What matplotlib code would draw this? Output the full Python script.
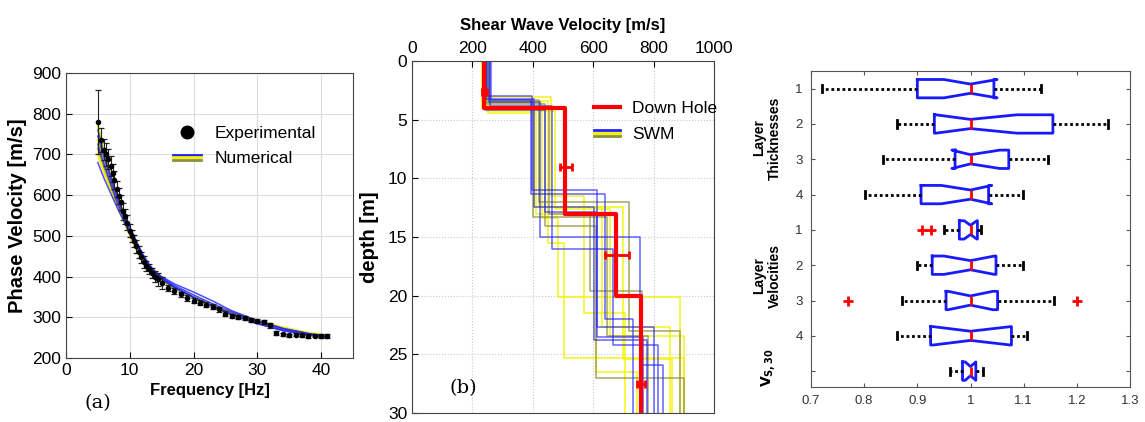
import matplotlib
matplotlib.use("Agg")
import matplotlib.pyplot as plt
from matplotlib.lines import Line2D
from matplotlib.legend_handler import HandlerBase

plt.rcParams['font.family'] = ['Liberation Sans', 'DejaVu Sans']

# ----------------------------
# (a) dispersion curve data
# ----------------------------

exp_freq = [5.0, 5.5, 6.0, 6.3, 6.6, 7.0, 7.3, 7.6, 8.0, 8.3, 8.6, 9.0, 9.3,
            9.6, 10.0, 10.3, 10.6, 11.0, 11.4, 11.8, 12.2, 12.6, 13.0, 13.5,
            14.0, 14.5, 15.0, 16.0, 17.0, 18.0, 19.0, 20.0, 21.0, 22.0, 23.0,
            24.0, 25.0, 26.0, 27.0, 28.0, 29.0, 30.0, 31.0, 32.0, 33.0, 34.0,
            35.0, 36.0, 37.0, 38.0, 39.0, 40.0, 41.0]
exp_vel = [780, 735, 712, 700, 688, 671, 655, 638, 615, 598, 582, 560, 548,
           532, 512, 500, 488, 474, 460, 447, 436, 426, 418, 408,
           400, 393, 385, 372, 364, 356, 348, 341, 336, 331, 326,
           320, 309, 304, 301, 298, 293, 290, 288, 280, 262, 258,
           256, 257, 256, 254, 255, 254, 254]
exp_err = [78, 30, 25, 28, 25, 25, 22, 22, 20, 20, 18, 20, 18,
           18, 16, 15, 15, 15, 14, 14, 14, 12, 12, 12,
           14, 15, 15, 8, 8, 7, 7, 6, 6, 6, 6,
           6, 6, 5, 5, 5, 5, 5, 5, 6, 5, 4,
           4, 4, 4, 4, 4, 4, 4]

num_freq = [5, 6, 7, 8, 9, 10, 11, 12, 13, 14, 15, 17, 20, 23, 26, 30, 34, 38, 41]
num_blue = [
    [745, 690, 640, 595, 555, 520, 485, 455, 430, 412, 398, 378, 355, 333, 313, 290, 272, 260, 253],
    [725, 675, 630, 585, 548, 512, 478, 450, 428, 410, 396, 375, 350, 328, 308, 285, 268, 257, 251],
    [680, 640, 605, 570, 538, 505, 476, 450, 428, 412, 400, 382, 362, 340, 316, 292, 273, 260, 252],
    [760, 700, 648, 600, 558, 522, 488, 456, 430, 410, 394, 372, 348, 326, 306, 284, 267, 256, 250],
]
num_yellow = [
    [770, 705, 650, 600, 555, 515, 478, 446, 420, 402, 390, 372, 350, 330, 312, 292, 275, 262, 255],
    [700, 655, 615, 575, 540, 502, 468, 440, 418, 402, 390, 370, 346, 325, 306, 286, 270, 259, 252],
    [735, 685, 635, 588, 548, 508, 472, 442, 420, 404, 392, 372, 348, 327, 308, 288, 272, 260, 253],
]
num_olive = [
    [715, 668, 625, 580, 544, 506, 470, 444, 422, 405, 393, 373, 349, 328, 309, 289, 271, 259, 252],
]

# ----------------------------
# (b) shear wave velocity profiles
# ----------------------------

dh_vs = [240, 507, 676, 757]
dh_z = [4.0, 13.0, 20.0]
dh_err_z = [2.6, 9.0, 16.5, 27.5]
dh_err_vs = [240, 510, 678, 758]
dh_err_dv = [7, 20, 39, 14]

swm_blue_vs = [
    [250, 397, 612, 800],
    [246, 405, 601, 777],
    [254, 424, 755, 832],
    [258, 463, 667, 816],
    [242, 441, 612, 766],
    [262, 395, 640, 733],
]
swm_blue_z = [
    [3.0, 11.0, 22.7],
    [3.2, 12.4, 23.8],
    [3.5, 15.0, 25.9],
    [3.8, 16.0, 24.2],
    [4.2, 12.9, 23.5],
    [3.3, 11.3, 22.0],
]
swm_yellow_vs = [
    [238, 430, 485, 888],
    [232, 405, 628, 854],
    [248, 475, 655, 899],
    [255, 450, 502, 899],
    [244, 420, 700, 860],
    [236, 460, 568, 706],
    [252, 412, 610, 744],
]
swm_yellow_z = [
    [3.6, 13.4, 20.1],
    [4.0, 12.4, 22.7],
    [4.3, 12.6, 23.4],
    [3.4, 15.5, 25.3],
    [3.9, 12.4, 25.4],
    [3.1, 11.5, 21.5],
    [4.4, 13.0, 26.5],
]
swm_olive_vs = [
    [245, 440, 610, 899],
    [250, 400, 645, 783],
    [240, 455, 590, 760],
    [256, 420, 720, 888],
]
swm_olive_z = [
    [3.7, 14.1, 27.0],
    [3.5, 13.3, 23.4],
    [4.1, 13.0, 19.6],
    [3.3, 12.0, 23.0],
]

# ----------------------------
# (c) boxplot statistics (normalised)
# ----------------------------

box_q1 = [0.900, 0.932, 0.971, 0.907, 0.979, 0.928, 0.954, 0.925, 0.985]
box_med = [1.0, 1.0, 1.0, 1.0, 1.0, 1.0, 1.0, 1.0, 1.0]
box_q3 = [1.044, 1.155, 1.072, 1.034, 1.013, 1.048, 1.051, 1.077, 1.010]
box_lo = [0.720, 0.861, 0.835, 0.802, 0.950, 0.900, 0.871, 0.861, 0.961]
box_hi = [1.133, 1.259, 1.146, 1.099, 1.019, 1.098, 1.157, 1.107, 1.024]
box_cilo = [0.950, 0.935, 0.965, 0.945, 0.988, 0.950, 0.958, 0.930, 0.990]
box_cihi = [1.050, 1.087, 1.055, 1.040, 1.012, 1.045, 1.042, 1.075, 1.010]
box_fliers = [[], [], [], [], [0.908, 0.926], [], [0.770, 1.201], [], []]
box_ticks = ['1', '2', '3', '4', '1', '2', '3', '4', '']

BLUE = '#2222ff'
YELLOW = '#f2f200'
OLIVE = '#8f8f3a'


class StackedLines(HandlerBase):
    def __init__(self, colors, lw=2.0):
        super().__init__()
        self.colors = colors
        self.lw = lw

    def create_artists(self, legend, orig_handle, xdescent, ydescent,
                       width, height, fontsize, trans):
        arts = []
        for i, c in enumerate(self.colors):
            y = height / 2 - ydescent + (1 - i) * height * 0.22
            ln = Line2D([-xdescent, -xdescent + width], [y, y],
                        color=c, lw=self.lw, transform=trans)
            arts.append(ln)
        return arts


fig = plt.figure(figsize=(11.45, 4.22), dpi=100)

# ----------------------------
# Panel (a)
# ----------------------------

ax1 = fig.add_axes([0.0576, 0.1517, 0.2507, 0.6754])

for v in num_yellow:
    ax1.plot(num_freq, v, color=YELLOW, lw=1.6)
for v in num_olive:
    ax1.plot(num_freq, v, color=OLIVE, lw=1.2)
for v in num_blue:
    ax1.plot(num_freq, v, color=BLUE, lw=1.1, alpha=0.8)

ax1.errorbar(exp_freq, exp_vel, yerr=exp_err, fmt='o', ms=3, color='k',
             ecolor='#222222', elinewidth=0.8, capsize=2.5, capthick=0.9)

ax1.set_xlim(0, 45)
ax1.set_ylim(200, 900)
ax1.set_xticks([0, 10, 20, 30, 40])
ax1.set_yticks(range(200, 901, 100))
ax1.grid(True, color='#dcdcdc', lw=0.8)
ax1.set_axisbelow(True)
ax1.tick_params(direction='in', labelsize=12.5, length=4)
ax1.set_xlabel('Frequency [Hz]', fontsize=12, fontweight='bold', labelpad=4)
ax1.set_ylabel('Phase Velocity [m/s]', fontsize=14.5, fontweight='bold', labelpad=4)
for s in ax1.spines.values():
    s.set_color('#444444')

h_exp = Line2D([], [], ls='none', marker='o', ms=9, color='k')
h_num = Line2D([], [], color=BLUE)
ax1.legend([h_exp, h_num], ['Experimental', 'Numerical'],
           handler_map={h_num: StackedLines([BLUE, YELLOW, OLIVE])},
           loc='upper left', bbox_to_anchor=(0.32, 0.87), frameon=False,
           fontsize=12.5, handlelength=1.6, handletextpad=0.8, labelspacing=0.6)

fig.text(0.074, 0.033, '(a)', family='DejaVu Serif', fontsize=14)

# ----------------------------
# Panel (b)
# ----------------------------

ax2 = fig.add_axes([0.3598, 0.0213, 0.2638, 0.8341])


def step_profile(vs, z, zmax=30):
    xs, ys = [], []
    top = 0
    for i, v in enumerate(vs):
        bot = z[i] if i < len(z) else zmax
        xs += [v, v]
        ys += [top, bot]
        top = bot
    return xs, ys


for vs, z in zip(swm_yellow_vs, swm_yellow_z):
    xs, ys = step_profile(vs, z)
    ax2.plot(xs, ys, color=YELLOW, lw=1.1, alpha=0.9)
for vs, z in zip(swm_olive_vs, swm_olive_z):
    xs, ys = step_profile(vs, z)
    ax2.plot(xs, ys, color=OLIVE, lw=1.1, alpha=0.8)
for vs, z in zip(swm_blue_vs, swm_blue_z):
    xs, ys = step_profile(vs, z)
    ax2.plot(xs, ys, color=BLUE, lw=1.1, alpha=0.7)

xs, ys = step_profile(dh_vs, dh_z)
ax2.plot(xs, ys, color='red', lw=3)
ax2.errorbar(dh_err_vs, dh_err_z, xerr=dh_err_dv, fmt='none', ecolor='red',
             elinewidth=2, capsize=3, capthick=2)

ax2.set_xlim(0, 1000)
ax2.set_ylim(30, 0)
ax2.set_xticks(range(0, 1001, 200))
ax2.set_yticks(range(0, 31, 5))
ax2.xaxis.tick_top()
ax2.xaxis.set_label_position('top')
ax2.grid(True, color='#c8c8c8', lw=0.8, ls=':')
ax2.set_axisbelow(True)
ax2.tick_params(direction='in', labelsize=12.5, length=4, top=True, bottom=False)
ax2.set_xlabel('Shear Wave Velocity [m/s]', fontsize=12, fontweight='bold', labelpad=8)
ax2.set_ylabel('depth [m]', fontsize=14.5, fontweight='bold', labelpad=6)
for s in ax2.spines.values():
    s.set_color('#444444')

h_dh = Line2D([], [], color='red', lw=3)
h_swm = Line2D([], [], color=BLUE)
ax2.legend([h_dh, h_swm], ['Down Hole', 'SWM'],
           handler_map={h_swm: StackedLines([BLUE, YELLOW, OLIVE])},
           loc='upper left', bbox_to_anchor=(0.55, 0.93), frameon=False,
           fontsize=12.5, handlelength=1.5, handletextpad=0.7, labelspacing=0.6)

fig.text(0.393, 0.069, '(b)', family='DejaVu Serif', fontsize=14)

# ----------------------------
# Panel (c)
# ----------------------------

ax3 = fig.add_axes([0.7083, 0.0829, 0.2786, 0.7488])

stats = []
for i in range(len(box_med)):
    stats.append(dict(med=box_med[i], q1=box_q1[i], q3=box_q3[i],
                      whislo=box_lo[i], whishi=box_hi[i],
                      cilo=box_cilo[i], cihi=box_cihi[i],
                      fliers=box_fliers[i]))

ax3.bxp(stats, positions=range(1, 10), orientation='horizontal',
        shownotches=True, widths=0.52, capwidths=0.2,
        boxprops=dict(color='#1a1aff', lw=2),
        medianprops=dict(color='red', lw=2),
        whiskerprops=dict(color='k', lw=2, ls=(0, (1, 1))),
        capprops=dict(color='k', lw=2),
        flierprops=dict(marker='+', mec='red', ms=7, mew=2))

ax3.set_xlim(0.7, 1.3)
ax3.set_ylim(9.45, 0.5)
ax3.set_xticks([0.7, 0.8, 0.9, 1.0, 1.1, 1.2, 1.3])
ax3.set_xticklabels(['0.7', '0.8', '0.9', '1', '1.1', '1.2', '1.3'])
ax3.set_yticks(range(1, 10))
ax3.set_yticklabels(box_ticks)
ax3.tick_params(direction='in', labelsize=9.5, labelcolor='#333333',
                length=3, top=True, right=True, color='#555555', pad=6)
for s in ax3.spines.values():
    s.set_color('#555555')

fig.text(0.670, 0.673, 'Layer\nThicknesses', rotation=90, fontsize=10,
         fontweight='bold', ha='center', va='center', linespacing=1.1)
fig.text(0.670, 0.346, 'Layer\nVelocities', rotation=90, fontsize=10,
         fontweight='bold', ha='center', va='center', linespacing=1.1)
fig.text(0.671, 0.128, '$\\mathbf{V}_{\\mathbf{S,30}}$', rotation=90, fontsize=10,
         ha='center', va='center')

fig.savefig('out.png', dpi=100)
